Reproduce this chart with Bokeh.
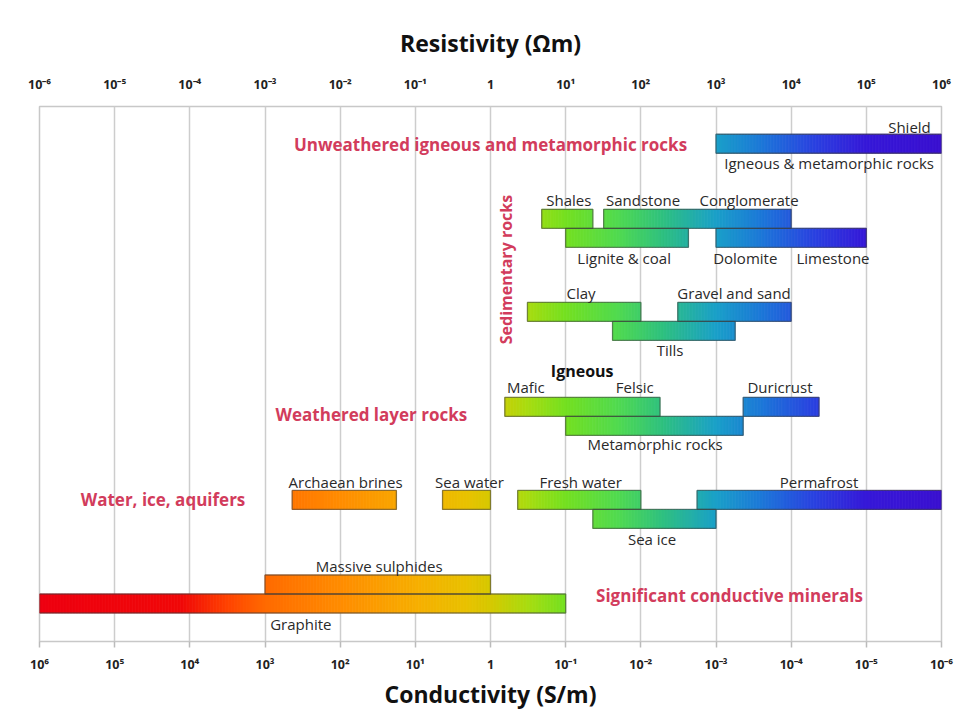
import numpy as np
from bokeh.plotting import figure
from bokeh.models import (ColumnDataSource, Range1d, LogAxis, FixedTicker,
                          CustomJSTickFormatter)
from bokeh.embed import file_html
from bokeh.resources import INLINE
from bokeh.core.properties import value

# ---------------- data ----------------
decades = list(range(-6, 7))
top_tick_labels = ["10⁻⁶", "10⁻⁵", "10⁻⁴", "10⁻³", "10⁻²", "10⁻¹", "1",
                   "10¹", "10²", "10³", "10⁴", "10⁵", "10⁶"]
bottom_tick_labels = ["10⁶", "10⁵", "10⁴", "10³", "10²", "10¹", "1",
                      "10⁻¹", "10⁻²", "10⁻³", "10⁻⁴", "10⁻⁵", "10⁻⁶"]

# resistivity ranges (ohm m) of each material bar
bar_names = ["Igneous & metamorphic rocks", "Shales", "Sandstone / Conglomerate",
             "Lignite & coal", "Dolomite / Limestone", "Clay", "Gravel and sand",
             "Tills", "Mafic / Felsic", "Duricrust", "Metamorphic rocks",
             "Archaean brines", "Sea water", "Fresh water", "Permafrost",
             "Sea ice", "Massive sulphides", "Graphite"]
bar_low = [1e3, 4.8, 32, 10, 1e3, 3.1, 310, 42, 1.55, 2300, 10,
           2.3e-3, 0.23, 2.3, 560, 23, 1e-3, 1e-6]
bar_high = [1e6, 23, 1e4, 430, 1e5, 100, 1e4, 1800, 180, 23500, 2300,
            0.056, 1.0, 100, 1e6, 1000, 1.0, 10]
# track (row) of each bar, counted from the bottom of the chart
bar_row = [26.2, 22.25, 22.25, 21.25, 21.25, 17.35, 17.35, 16.35, 12.35, 12.35,
           11.35, 7.45, 7.45, 7.45, 7.45, 6.45, 3.0, 2.0]

# bar labels: text, resistivity anchor, row, alignment
lab_text = ["Shield", "Igneous & metamorphic rocks", "Shales", "Sandstone",
            "Conglomerate", "Lignite & coal", "Dolomite", "Limestone", "Clay",
            "Gravel and sand", "Tills", "Mafic", "Felsic", "Duricrust",
            "Metamorphic rocks", "Archaean brines", "Sea water", "Fresh water",
            "Permafrost", "Sea ice", "Massive sulphides", "Graphite"]
lab_x = [7.2e5, 3.2e4, 11, 107, 2750, 60, 2450, 36000, 16, 1740, 245,
         2.95, 83, 7100, 155, 0.0118, 0.525, 15.8, 23500, 141, 0.033, 0.003]
lab_row = [27.1, 25.2, 23.26, 23.26, 23.26, 20.16, 20.16, 20.16, 18.32, 18.32,
           15.32, 13.37, 13.37, 13.37, 10.42, 8.37, 8.37, 8.37, 8.37, 5.37,
           3.95, 0.9]
lab_align = ["right"] + ["center"] * 21

# group titles
grp_text = ["Unweathered igneous and metamorphic rocks", "Weathered layer rocks",
            "Water, ice, aquifers", "Significant conductive minerals"]
grp_x = [1.0, 0.026, 4.4e-5, 1510]
grp_row = [26.16, 11.95, 7.47, 2.42]

# colour scale against log10 resistivity
stop_pos = [-6, -4.1, -3.5, -3, -2, -1, -0.3, 0, 0.5, 1, 1.7, 2.3, 3, 3.6, 4.3, 5, 6]
stop_col = ["#ee0010", "#f00808", "#ff4200", "#ff6a00", "#ff8c00", "#f7ae00",
            "#e8c200", "#d6c800", "#a8dc10", "#74e020", "#50da50", "#2ec080",
            "#1aa0c8", "#1c78d8", "#2a42e0", "#3618d8", "#3a10d0"]

# ---------------- helpers ----------------
def hex2rgb(h):
    return np.array([int(h[i:i + 2], 16) for i in (1, 3, 5)], dtype=float)

stop_rgb = np.array([hex2rgb(c) for c in stop_col])

def colour_at(v):
    r = np.interp(v, stop_pos, stop_rgb[:, 0])
    g = np.interp(v, stop_pos, stop_rgb[:, 1])
    b = np.interp(v, stop_pos, stop_rgb[:, 2])
    return "#%02x%02x%02x" % (int(round(r)), int(round(g)), int(round(b)))

sl_l, sl_r, sl_b, sl_t, sl_c = [], [], [], [], []
for lo, hi, row in zip(bar_low, bar_high, bar_row):
    a, b = np.log10(lo), np.log10(hi)
    n = max(2, int(np.ceil((b - a) / 0.04)))
    edges = np.linspace(a, b, n + 1)
    for e0, e1 in zip(edges[:-1], edges[1:]):
        sl_l.append(10 ** e0)
        sl_r.append(10 ** e1)
        sl_b.append(row - 0.5)
        sl_t.append(row + 0.5)
        sl_c.append(colour_at(0.5 * (e0 + e1)))

# ---------------- figure ----------------
FONT = "Open Sans"
p = figure(width=960, height=712, x_axis_type="log",
           x_range=Range1d(1e-6, 1e6), y_range=Range1d(0, 28.16),
           output_backend="svg", toolbar_location=None,
           min_border_left=39, min_border_right=19,
           min_border_top=106, min_border_bottom=71)
p.background_fill_color = "white"
p.border_fill_color = "white"
p.outline_line_color = "#c8c8c8"
p.outline_line_width = 1.5
p.yaxis.visible = False
p.ygrid.visible = False

ticker = FixedTicker(ticks=[10.0 ** k for k in decades])
p.xgrid.ticker = ticker
p.xgrid.grid_line_color = "#cdcdcd"
p.xgrid.grid_line_width = 1.5

fmt_code = """
const k = Math.round(Math.log10(tick)) + 6;
return labels[k];
"""

bax = p.xaxis[0]
bax.ticker = ticker
bax.formatter = CustomJSTickFormatter(args=dict(labels=bottom_tick_labels), code=fmt_code)
bax.axis_label = "Conductivity (S/m)"

tax = LogAxis(ticker=ticker,
              formatter=CustomJSTickFormatter(args=dict(labels=top_tick_labels), code=fmt_code),
              axis_label="Resistivity (\u03a9m)")
p.add_layout(tax, "above")

for ax, standoff_t, standoff_l, tick_out in ((bax, 8, 2, 6), (tax, 14, 14, 0)):
    ax.axis_line_color = None
    ax.major_tick_line_color = "#bbbbbb"
    ax.major_tick_line_width = 1.5
    ax.major_tick_in = 0
    ax.major_tick_out = tick_out
    ax.minor_tick_line_color = None
    ax.major_label_text_font = FONT
    ax.major_label_text_font_size = "12.5px"
    ax.major_label_text_font_style = "bold"
    ax.major_label_text_color = "#222222"
    ax.major_label_standoff = standoff_t
    ax.axis_label_text_font = FONT
    ax.axis_label_text_font_size = "23px"
    ax.axis_label_text_font_style = "bold"
    ax.axis_label_text_color = "#111111"
    ax.axis_label_standoff = standoff_l

# gradient slices
p.quad(left="l", right="r", bottom="b", top="t", source=ColumnDataSource(
    dict(l=sl_l, r=sl_r, b=sl_b, t=sl_t, c=sl_c)),
    fill_color="c", line_color="c", line_width=0.8)

# bar outlines
p.quad(left=bar_low, right=bar_high,
       bottom=[r - 0.5 for r in bar_row], top=[r + 0.5 for r in bar_row],
       fill_color=None, line_color="#3a3a3a", line_alpha=0.55, line_width=1.3)

# labels
p.text(x=lab_x, y=lab_row, text=lab_text, text_align=lab_align,
       text_baseline="middle", text_font=value(FONT), text_font_size="15px",
       text_color="#2a2a2a")

p.text(x=grp_x, y=grp_row, text=grp_text, text_align="center",
       text_baseline="middle", text_font=value(FONT), text_font_size="17px",
       text_font_style="bold", text_color="#d23c5c")

p.text(x=[1.6], y=[19.58], text=["Sedimentary rocks"], angle=np.pi / 2,
       text_align="center", text_baseline="middle", text_font=value(FONT),
       text_font_size="16px", text_font_style="bold", text_color="#d23c5c")

p.text(x=[16.6], y=[14.26], text=["Igneous"], text_align="center",
       text_baseline="middle", text_font=value(FONT), text_font_size="16px",
       text_font_style="bold", text_color="#111111")

open("out.html", "w").write(file_html(p, INLINE))
